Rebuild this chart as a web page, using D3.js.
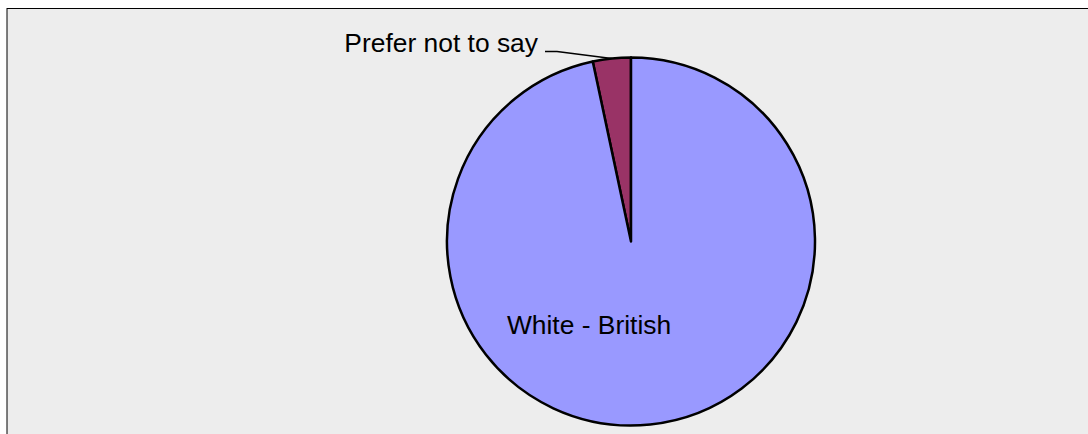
<!DOCTYPE html>
<html>
<head>
<meta charset="utf-8">
<script src="https://cdn.jsdelivr.net/npm/d3@7"></script>
<style>
  html, body { margin: 0; padding: 0; background: #ffffff; }
  svg { display: block; }
  text { font-family: "Liberation Sans", Arial, sans-serif; fill: #000; }
</style>
</head>
<body>
<svg id="chart" width="1088" height="434"></svg>
<script>
// Responses by ethnic group
const categories = ["Prefer not to say", "White - British"];
const counts = [1, 29];
const colours = ["#993366", "#9999FF"];

const width = 1088, height = 434;
const svg = d3.select("#chart");

// Chart area panel
svg.append("rect")
  .attr("x", 7).attr("y", 8.5)
  .attr("width", width).attr("height", height)
  .attr("fill", "#ededed");
svg.append("line")
  .attr("x1", 7).attr("x2", width).attr("y1", 8.5).attr("y2", 8.5)
  .attr("stroke", "#000").attr("stroke-width", 1);
svg.append("line")
  .attr("x1", 7).attr("x2", 7).attr("y1", 8).attr("y2", height)
  .attr("stroke", "#000").attr("stroke-width", 1);

const cx = 631, cy = 241.5, radius = 184;
const g = svg.append("g").attr("transform", `translate(${cx},${cy})`);

const data = categories.map((c, i) => ({ name: c, value: counts[i], colour: colours[i] }));

// Start with the small slice going counter-clockwise from 12 o'clock
const total = d3.sum(counts);
const pie = d3.pie()
  .value(d => d.value)
  .sort(null)
  .startAngle(-2 * Math.PI * counts[0] / total)
  .endAngle(2 * Math.PI - 2 * Math.PI * counts[0] / total);

const arcs = pie(data);
const arc = d3.arc().innerRadius(0).outerRadius(radius);

g.selectAll("path.slice")
  .data(arcs)
  .join("path")
  .attr("class", "slice")
  .attr("d", arc)
  .attr("fill", d => d.data.colour)
  .attr("stroke", "#000")
  .attr("stroke-width", 2.5)
  .attr("stroke-linejoin", "round");

// Outside label with leader line for the small slice
const small = arcs[0];
const mid = (small.startAngle + small.endAngle) / 2;
const edge = [radius * Math.sin(mid), -radius * Math.cos(mid)];
const elbow = [-74, -190];
const labelEnd = [-86, -190];
g.append("polyline")
  .attr("points", [edge, elbow, labelEnd].map(p => p.join(",")).join(" "))
  .attr("fill", "none")
  .attr("stroke", "#000")
  .attr("stroke-width", 1.5);
g.append("text")
  .attr("x", labelEnd[0] - 7)
  .attr("y", labelEnd[1])
  .attr("text-anchor", "end")
  .attr("font-size", 26.4)
  .text(small.data.name);

// Inside label for the large slice
g.append("text")
  .attr("x", -42)
  .attr("y", 92)
  .attr("text-anchor", "middle")
  .attr("font-size", 26.4)
  .text(arcs[1].data.name);
</script>
</body>
</html>
